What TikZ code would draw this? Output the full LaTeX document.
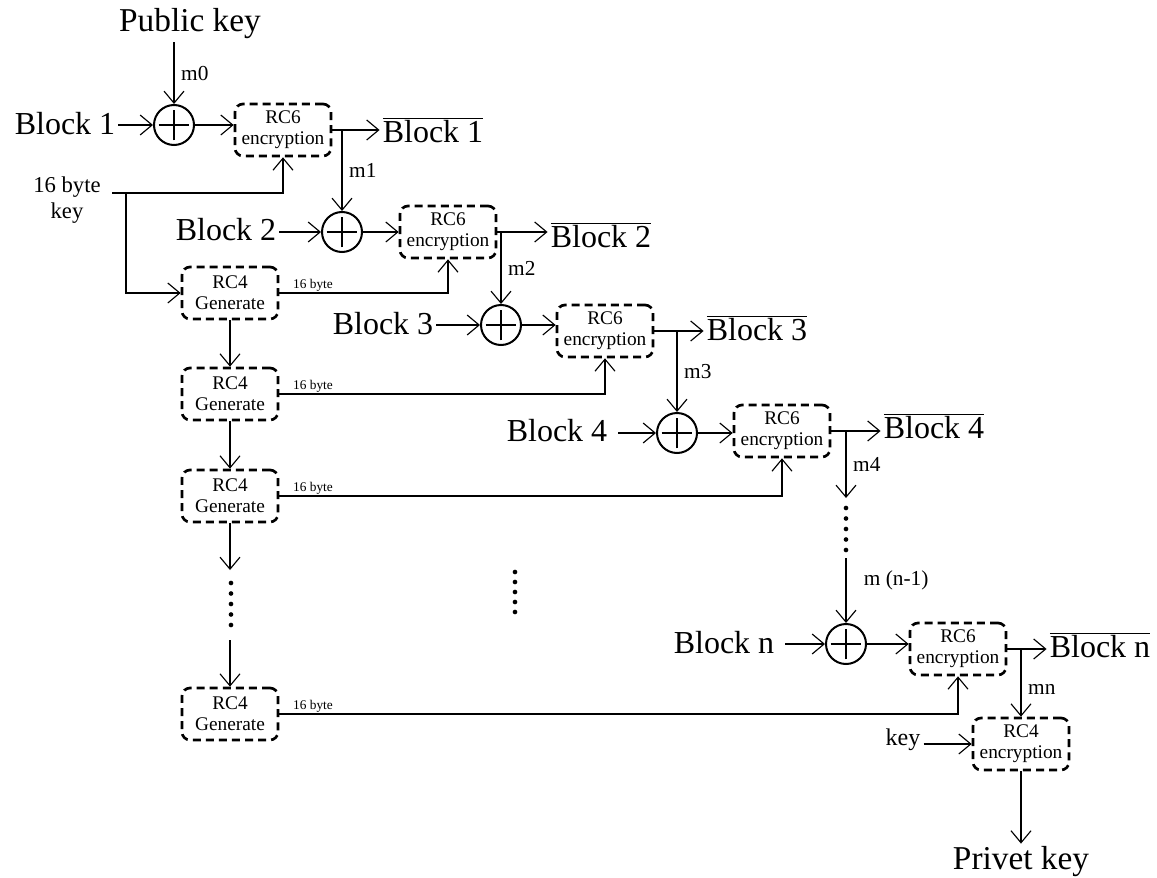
\documentclass[tikz,border=0pt]{standalone}
\usepackage{fontspec}
\setmainfont{Liberation Serif}
\usetikzlibrary{arrows.meta}
\begin{document}
\begin{tikzpicture}[x=0.75pt, y=-0.75pt, line width=0.85pt,
  big/.style={font=\fontsize{24}{26}\selectfont, inner sep=2pt},
  keytxt/.style={font=\fontsize{25}{27}\selectfont, inner sep=2pt},
  enc/.style={draw, line width=2pt, dash pattern=on 6pt off 3.8pt, rounded corners=6pt,
    minimum width=72pt, minimum height=39pt, align=center, inner sep=1pt,
    font=\fontsize{14.5}{15.5}\selectfont},
  xorc/.style={draw, circle, line width=1.5pt, minimum size=30pt, inner sep=0pt,
    path picture={\draw[line width=1.7pt]
      ([xshift=-11.5pt]path picture bounding box.center) -- ([xshift=11.5pt]path picture bounding box.center)
      ([yshift=-11.5pt]path picture bounding box.center) -- ([yshift=11.5pt]path picture bounding box.center);}},
  lbl/.style={font=\fontsize{16}{18}\selectfont, anchor=west, inner sep=1pt, xshift=4pt},
  tiny16/.style={font=\fontsize{10}{11}\selectfont, anchor=south west, inner sep=1pt},
  arr/.style={-{Straight Barb[length=9pt, width=15pt]}},
  dot/.style={circle, fill, inner sep=0pt, minimum size=3.5pt}]
\useasboundingbox (0,0) rectangle (1157,878);
% block rows
\foreach \i/\bx/\by/\gap/\cx/\cy/\ex/\ey/\ox/\oy in {1/65/124/0/174/125/283/130/433/130,
    2/226/230/0/342/232/448/232/601/235, 3/383/324/0/501/325/605/331/757/328,
    4/557/431/6/677/433/782/431/934/426, n/724/643/6/846/644/958/649/1100/645} {
  \node[big] (b\i) at (\bx,\by) {Block \i};
  \node[xorc] (x\i) at (\cx,\cy) {};
  \node[enc] (e\i) at (\ex,\ey) {RC6\\encryption};
  \node[big] (o\i) at (\ox,\oy) {$\overline{\mbox{Block \i}}$};
  \draw[arr, shorten <=\gap pt] (b\i.east |- x\i) -- (x\i.west);
  \draw[arr] (x\i.east) -- (x\i -| e\i.west);
  \draw[arr] (e\i.east) -- (e\i.east -| o\i.west);
}
% public key in
\node[keytxt] (pub) at (190,24) {Public key};
\draw[arr] (x1 |- pub.south) -- (x1.north) node[lbl, midway] {m0};
% chaining values
\draw[arr] (x2 |- e1.east) -- (x2.north) node[lbl, midway] {m1};
\draw[arr] (x3 |- e2.east) -- (x3.north) node[lbl, midway] {m2};
\draw[arr] (x4 |- e3.east) -- (x4.north) node[lbl, midway] {m3};
\coordinate (md0) at (846,498);
\coordinate (md1) at (846,558);
\draw[arr] (xn |- e4.east) -- (md0) node[lbl, midway] {m4};
\foreach \k in {0,...,4} \node[dot] (dr\k) at (846,508+10.5*\k) {};
\draw[arr] (md1) -- (xn.north) node[lbl, pos=0.35, xshift=8pt] {m (n-1)};
% 16 byte key
\node[font=\fontsize{17}{19}\selectfont, align=center, inner sep=1pt] (key16) at (67,200) {16 byte\\key};
\coordinate (k0) at (112,193);
\coordinate (k1) at (126,193);
\draw[arr] (k0) -| (e1.south);
% RC4 generator column
\foreach \j/\gy/\tgt in {1/293/e2, 2/394/e3, 3/496/e4, 4/714/en} {
  \node[enc] (g\j) at (230,\gy) {RC4\\Generate};
  \draw[arr] (g\j.east) -| (\tgt.south) node[tiny16, pos=0, xshift=9pt] {16 byte};
}
\draw[arr] (k1) |- (g1.west);
\draw[arr] (g1) -- (g2);
\draw[arr] (g2) -- (g3);
\coordinate (gd0) at (230,570);
\coordinate (gd1) at (230,640);
\draw[arr] (g3) -- (gd0);
\foreach \k in {0,...,4} \node[dot] (dl\k) at (231,583+10.5*\k) {};
\draw[arr] (gd1) -- (g4);
\foreach \k in {0,...,4} \node[dot] (dm\k) at (515,572+10*\k) {};
% private key out
\node[enc] (rc4e) at (1021,744) {RC4\\encryption};
\draw[arr] (rc4e.north |- en.east) -- (rc4e.north) node[lbl, pos=0.6] {mn};
\node[font=\fontsize{18}{20}\selectfont, inner sep=2pt] (keyin) at (903,740) {key};
\draw[arr] (keyin.east |- rc4e) -- (rc4e.west);
\node[keytxt] (priv) at (1021,862) {Privet key};
\draw[arr] (rc4e.south) -- (priv.north);
\end{tikzpicture}
\end{document}
